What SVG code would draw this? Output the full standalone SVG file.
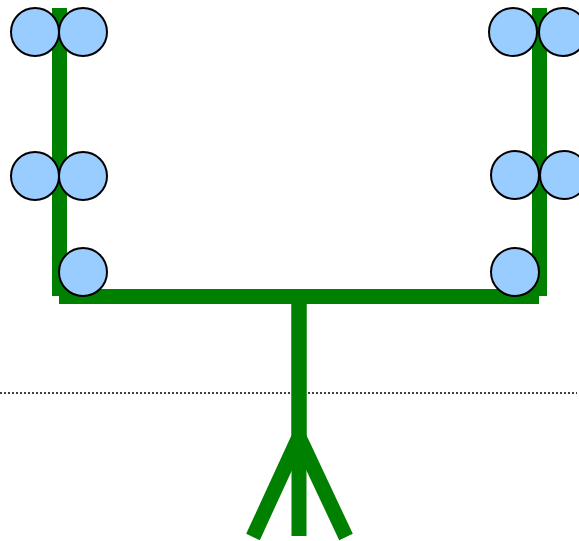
<svg xmlns="http://www.w3.org/2000/svg" width="579" height="541" viewBox="0 0 579 541">
<style>
.bar{fill:none;stroke:#008000;stroke-width:15;stroke-linecap:butt;stroke-linejoin:miter}
.ball{fill:#99ccff;stroke:#000;stroke-width:2}
.dot{stroke:#000;stroke-width:1.5;stroke-dasharray:2 2;fill:none}
</style>
<rect width="579" height="541" fill="#fff"/>
<line class="dot" x1="0" y1="393" x2="577" y2="393"/>
<g id="connectors">
<line class="bar" x1="59.5" y1="8" x2="59.5" y2="296"/>
<line class="bar" x1="539.5" y1="8" x2="539.5" y2="296"/>
<line class="bar" x1="59" y1="296.5" x2="539" y2="296.5"/>
<line class="bar" x1="299" y1="296" x2="299" y2="536"/>
<path class="bar" d="M299,296 V437 L253,537"/>
<path class="bar" d="M299,437 L346,537"/>
</g>
<g id="n1"><circle class="ball" cx="35" cy="32" r="24"/></g>
<g id="n2"><circle class="ball" cx="83" cy="32" r="24"/></g>
<g id="n3"><circle class="ball" cx="35" cy="176" r="24"/></g>
<g id="n4"><circle class="ball" cx="83" cy="176" r="24"/></g>
<g id="n5"><circle class="ball" cx="83" cy="272" r="24"/></g>
<g id="n6"><circle class="ball" cx="513" cy="32" r="24"/></g>
<g id="n7"><circle class="ball" cx="563" cy="32" r="24"/></g>
<g id="n8"><circle class="ball" cx="515" cy="175" r="24"/></g>
<g id="n9"><circle class="ball" cx="564" cy="175" r="24"/></g>
<g id="n10"><circle class="ball" cx="515" cy="272" r="24"/></g>
</svg>
